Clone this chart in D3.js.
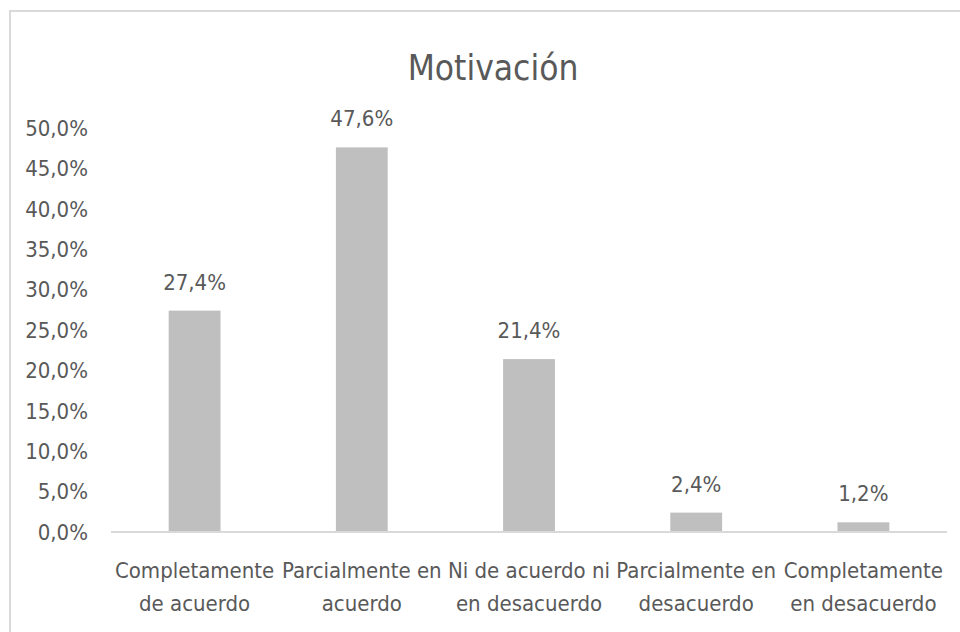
<!DOCTYPE html>
<html>
<head>
<meta charset="utf-8">
<title>Motivación</title>
<script src="https://d3js.org/d3.v7.min.js"></script>
<style>
	body { margin: 0; background: #fff; }
	text { font-family: "Liberation Sans Narrow", "DejaVu Sans Condensed", "Open Sans", sans-serif; fill: #595959; }
</style>
</head>
<body>
<svg width="960" height="632"></svg>
<script>
var width = 960, height = 632;
var margin = {top: 128, right: 13, bottom: 100, left: 111};

var categories = [
	["Completamente", "de acuerdo"],
	["Parcialmente en", "acuerdo"],
	["Ni de acuerdo ni", "en desacuerdo"],
	["Parcialmente en", "desacuerdo"],
	["Completamente", "en desacuerdo"]
];
var values = [27.4, 47.6, 21.4, 2.4, 1.2];
var yTicks = [0, 5, 10, 15, 20, 25, 30, 35, 40, 45, 50];

var fmt = function(v, digits) {
	return v.toFixed(digits).replace('.', ',') + '%';
};

var svg = d3.select('svg');

// chart frame (only top and left edges show)
svg.append('line').attr('x1', 9).attr('y1', 11).attr('x2', width).attr('y2', 11)
	.attr('stroke', '#d9d9d9').attr('stroke-width', 2);
svg.append('line').attr('x1', 10).attr('y1', 11).attr('x2', 10).attr('y2', height)
	.attr('stroke', '#d9d9d9').attr('stroke-width', 2);

var x = d3.scaleBand()
	.domain(d3.range(values.length))
	.range([margin.left, width - margin.right])
	.paddingInner(0.69)
	.paddingOuter(0.345);

var y = d3.scaleLinear()
	.domain([0, 50])
	.range([height - margin.bottom, margin.top]);

svg.append('text')
	.attr('x', 493)
	.attr('y', 80)
	.attr('text-anchor', 'middle')
	.style('font-size', '35px')
	.text('Motivación');

// y axis labels
svg.selectAll('.ytick')
	.data(yTicks)
	.enter()
	.append('text')
	.attr('class', 'ytick')
	.attr('x', 88)
	.attr('y', function(d) { return y(d); })
	.attr('dy', '0.35em')
	.attr('text-anchor', 'end')
	.style('font-size', '22px')
	.text(function(d) { return fmt(d, 1); });

svg.selectAll('rect')
	.data(values)
	.enter()
	.append('rect')
	.attr('x', function(d, i) { return x(i); })
	.attr('y', function(d) { return y(d); })
	.attr('width', x.bandwidth())
	.attr('height', function(d) { return y(0) - y(d); })
	.attr('fill', '#bfbfbf');

// baseline
svg.append('line')
	.attr('x1', margin.left).attr('x2', width - margin.right)
	.attr('y1', y(0)).attr('y2', y(0))
	.attr('stroke', '#d9d9d9').attr('stroke-width', 2);

svg.selectAll('.vlabel')
	.data(values)
	.enter()
	.append('text')
	.attr('class', 'vlabel')
	.attr('x', function(d, i) { return x(i) + x.bandwidth() / 2; })
	.attr('y', function(d) { return y(d) - 21; })
	.attr('text-anchor', 'middle')
	.style('font-size', '22px')
	.text(function(d) { return fmt(d, 1); });

var cat = svg.selectAll('.cat')
	.data(categories)
	.enter()
	.append('text')
	.attr('class', 'cat')
	.attr('text-anchor', 'middle')
	.style('font-size', '22px');

cat.selectAll('tspan')
	.data(function(d, i) { return d.map(function(s) { return {s: s, i: i}; }); })
	.enter()
	.append('tspan')
	.attr('x', function(d) { return x(d.i) + x.bandwidth() / 2; })
	.attr('y', function(d, j) { return y(0) + 46 + j * 33; })
	.text(function(d) { return d.s; });
</script>
</body>
</html>
